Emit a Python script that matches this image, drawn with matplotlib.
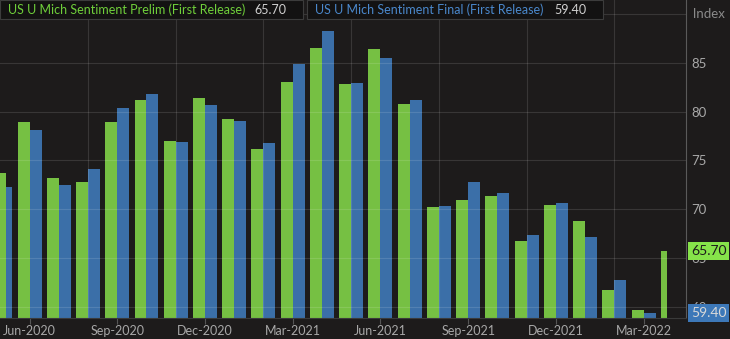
import matplotlib
matplotlib.use("Agg")
import matplotlib.pyplot as plt
from matplotlib.patches import Rectangle
import numpy as np

# monthly readings, May-2020 .. Apr-2022
months = ["May-2020", "Jun-2020", "Jul-2020", "Aug-2020", "Sep-2020", "Oct-2020",
          "Nov-2020", "Dec-2020", "Jan-2021", "Feb-2021", "Mar-2021", "Apr-2021",
          "May-2021", "Jun-2021", "Jul-2021", "Aug-2021", "Sep-2021", "Oct-2021",
          "Nov-2021", "Dec-2021", "Jan-2022", "Feb-2022", "Mar-2022", "Apr-2022"]
prelim = [73.7, 78.9, 73.2, 72.8, 78.9, 81.2, 77.0, 81.4, 79.2, 76.2, 83.0, 86.5,
          82.8, 86.4, 80.8, 70.2, 71.0, 71.4, 66.8, 70.4, 68.8, 61.7, 59.7, 65.7]
final = [72.3, 78.1, 72.5, 74.1, 80.4, 81.8, 76.9, 80.7, 79.0, 76.8, 84.9, 88.3,
         82.9, 85.5, 81.2, 70.3, 72.8, 71.7, 67.4, 70.6, 67.2, 62.8, 59.4]
yticks = [60, 65, 70, 75, 80, 85]
xtick_labels = ["Jun-2020", "Sep-2020", "Dec-2020", "Mar-2021",
                "Jun-2021", "Sep-2021", "Dec-2021", "Mar-2022"]
prelim_name = "US U Mich Sentiment Prelim (First Release)"
final_name = "US U Mich Sentiment Final (First Release)"

BG = "#1d1b1b"
GREEN = "#76c043"
BLUE = "#3b6fa8"
TXT = "#a8a8a8"
FONT = "Lato"

W, H = 730, 339
fig = plt.figure(figsize=(W / 100, H / 100), dpi=100, facecolor=BG)
ax = fig.add_axes([0, 21 / H, 686 / W, 318 / H], facecolor=BG)

x = np.arange(len(months))
bw = 0.41
# the first and last groups are drawn squeezed, as in the source chart
gw = np.full(len(months), bw)
gw[0] = bw / 2
gw[-1] = bw / 2
g_left = x - bw
g_left[0] = x[0]
bl_left = x[:len(final)].astype(float)
bl_w = np.full(len(final), bw)
bl_left[0] = x[0] + bw / 2
bl_w[0] = bw / 2

ax.bar(g_left, prelim, width=gw, align="edge", color=GREEN, zorder=2)
ax.bar(bl_left, final, width=bl_w, align="edge", color=BLUE, zorder=2)

ax.set_xlim(-0.01, 23.45)
ax.set_ylim(58.87, 91.43)

# grid
for v in yticks + [90]:
    ax.axhline(v, color="white", alpha=0.12, lw=0.8, zorder=3)
for i in range(3, len(months), 3):
    ax.axvline(i, color="white", alpha=0.12, lw=0.8, zorder=3)

ax.set_xticks([months.index(m) for m in xtick_labels])
ax.set_xticklabels(xtick_labels, fontsize=9, color=TXT, family=FONT)
ax.tick_params(axis="x", length=4, color="#555555", pad=1)
ax.yaxis.tick_right()
ax.set_yticks(yticks)
ax.set_yticklabels([str(v) for v in yticks], fontsize=9.5, color=TXT, family=FONT)
ax.tick_params(axis="y", length=0, pad=4)
for s in ["top", "left"]:
    ax.spines[s].set_visible(False)
ax.spines["right"].set_color("#5a5a5a")
ax.spines["bottom"].set_color("#3a3a3a")
ax.text(1.0, 90, "  Index", transform=ax.get_yaxis_transform(), va="center",
        ha="left", fontsize=9.5, color="#8a8a8a", family=FONT, clip_on=False)

# last value tags on the right axis
ax.text(1.007, prelim[-1], "65.70", transform=ax.get_yaxis_transform(), va="center",
        ha="left", fontsize=10, color="#1d1b1b", family=FONT, clip_on=False, zorder=5,
        bbox=dict(boxstyle="square,pad=0.22", fc="#86e34a", ec="none"))
ax.text(1.007, final[-1], "59.40", transform=ax.get_yaxis_transform(), va="center",
        ha="left", fontsize=10, color="#d8d8d8", family=FONT, clip_on=False, zorder=5,
        bbox=dict(boxstyle="square,pad=0.22", fc="#3d78b8", ec="none"))

# legend boxes at the top
def legend_box(x0, x1, name, value, color):
    fig.patches.append(Rectangle((x0 / W, 1 - 19 / H), (x1 - x0) / W, 19 / H,
                                 transform=fig.transFigure, fc="#131212",
                                 ec="#3c3c3c", lw=0.8, zorder=4))
    fig.text((x0 + 8) / W, 1 - 9.5 / H, name, color=color, fontsize=9.0,
             family=FONT, va="center", ha="left", zorder=5)
    fig.text((x1 - 49) / W, 1 - 9.5 / H, value, color="#d0d0d0", fontsize=9.0,
             family=FONT, va="center", ha="left", zorder=5)

legend_box(0, 303, prelim_name, "65.70", "#6fcf3a")
legend_box(307, 603, final_name, "59.40", "#4a88cc")

fig.savefig("out.png", dpi=100, facecolor=BG)
